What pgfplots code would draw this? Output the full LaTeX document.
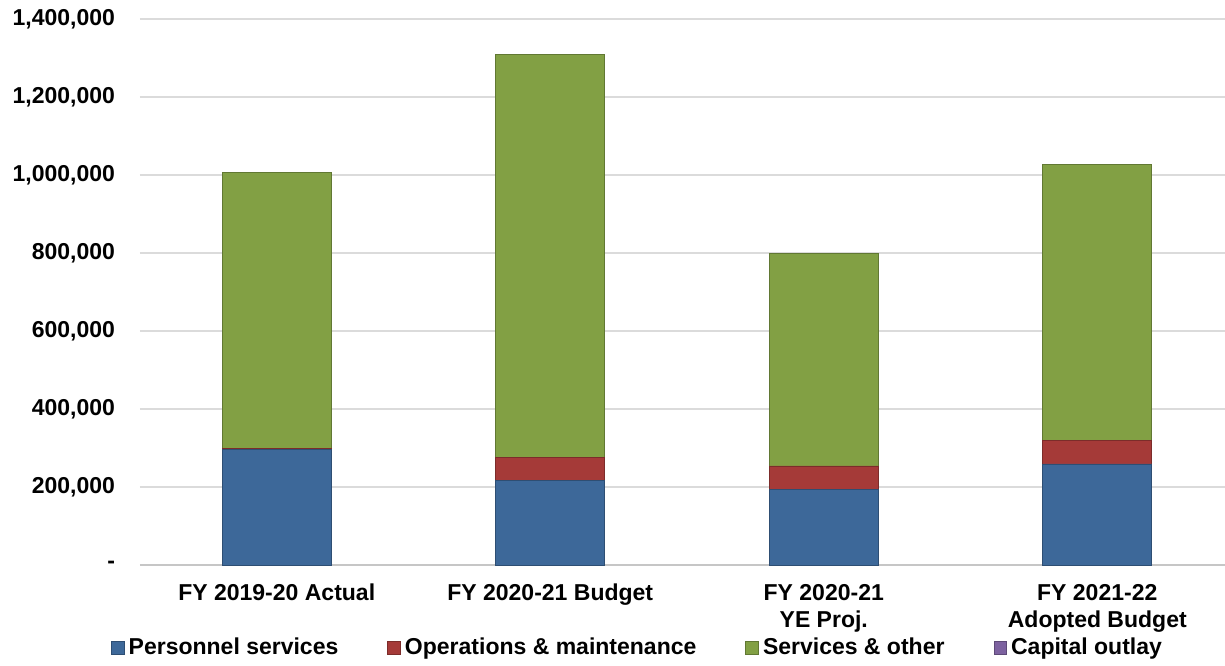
\documentclass[border=0pt]{standalone}
\usepackage{pgfplots}
\pgfplotsset{compat=1.18}
\usepackage{fontspec}
\setmainfont{Liberation Sans}
\definecolor{pblue}{HTML}{3D6899}
\definecolor{pred}{HTML}{A53A38}
\definecolor{pgreen}{HTML}{82A044}
\definecolor{ppurple}{HTML}{7D62A0}
\begin{document}
\begin{tikzpicture}
\path[use as bounding box] (-70pt,-50pt) rectangle (542.5pt,282.5pt);
\begin{axis}[
  at={(0,0)}, anchor=south west,
  scale only axis, width=542.5pt, height=273pt,
  ybar stacked, bar width=54.5pt,
  xmin=-0.5, xmax=3.467, ymin=0, ymax=1400000,
  xtick={0,1,2,3},
  xticklabels={{FY 2019-20 Actual},{FY 2020-21 Budget},{FY 2020-21\\YE Proj.},{FY 2021-22\\Adopted Budget}},
  xticklabel style={align=center, font=\bfseries\fontsize{11.5}{13.5}\selectfont, yshift=-6pt},
  ytick={0,200000,400000,600000,800000,1000000,1200000,1400000},
  yticklabels={{-},{200,000},{400,000},{600,000},{800,000},{1,000,000},{1,200,000},{1,400,000}},
  yticklabel style={font=\bfseries\fontsize{11.5}{13}\selectfont, xshift=-9pt},
  scaled y ticks=false,
  major tick length=0pt, tick style={draw=none},
  axis x line=bottom, axis y line=left,
  axis line style={-},
  x axis line style={draw=gray!45, line width=1.2pt},
  y axis line style={draw=none},
  ymajorgrids, grid style={draw=gray!28, line width=0.8pt},
  legend columns=4,
  legend image code/.code={\fill[#1] (0pt,-3.2pt) rectangle (6.4pt,3.2pt);},
  legend style={at={(-0.027,-0.152)}, anchor=west, draw=none, fill=none,
    font=\bfseries\fontsize{11.5}{13}\selectfont,
    /tikz/every even column/.append style={column sep=22.5pt},
    inner sep=0pt},
]
\addplot[fill=pblue, draw=pblue!75!black] coordinates {(0,297000) (1,216000) (2,194000) (3,259000)};
\addlegendentry{Personnel services}
\addplot[fill=pred, draw=pred!75!black] coordinates {(0,3000) (1,60000) (2,60000) (3,60000)};
\addlegendentry{Operations \& maintenance}
\addplot[fill=pgreen, draw=pgreen!75!black] coordinates {(0,706000) (1,1032000) (2,545000) (3,709000)};
\addlegendentry{Services \& other}
\addlegendimage{fill=ppurple, draw=ppurple!75!black}
\addlegendentry{Capital outlay}
\end{axis}
\end{tikzpicture}
\end{document}
